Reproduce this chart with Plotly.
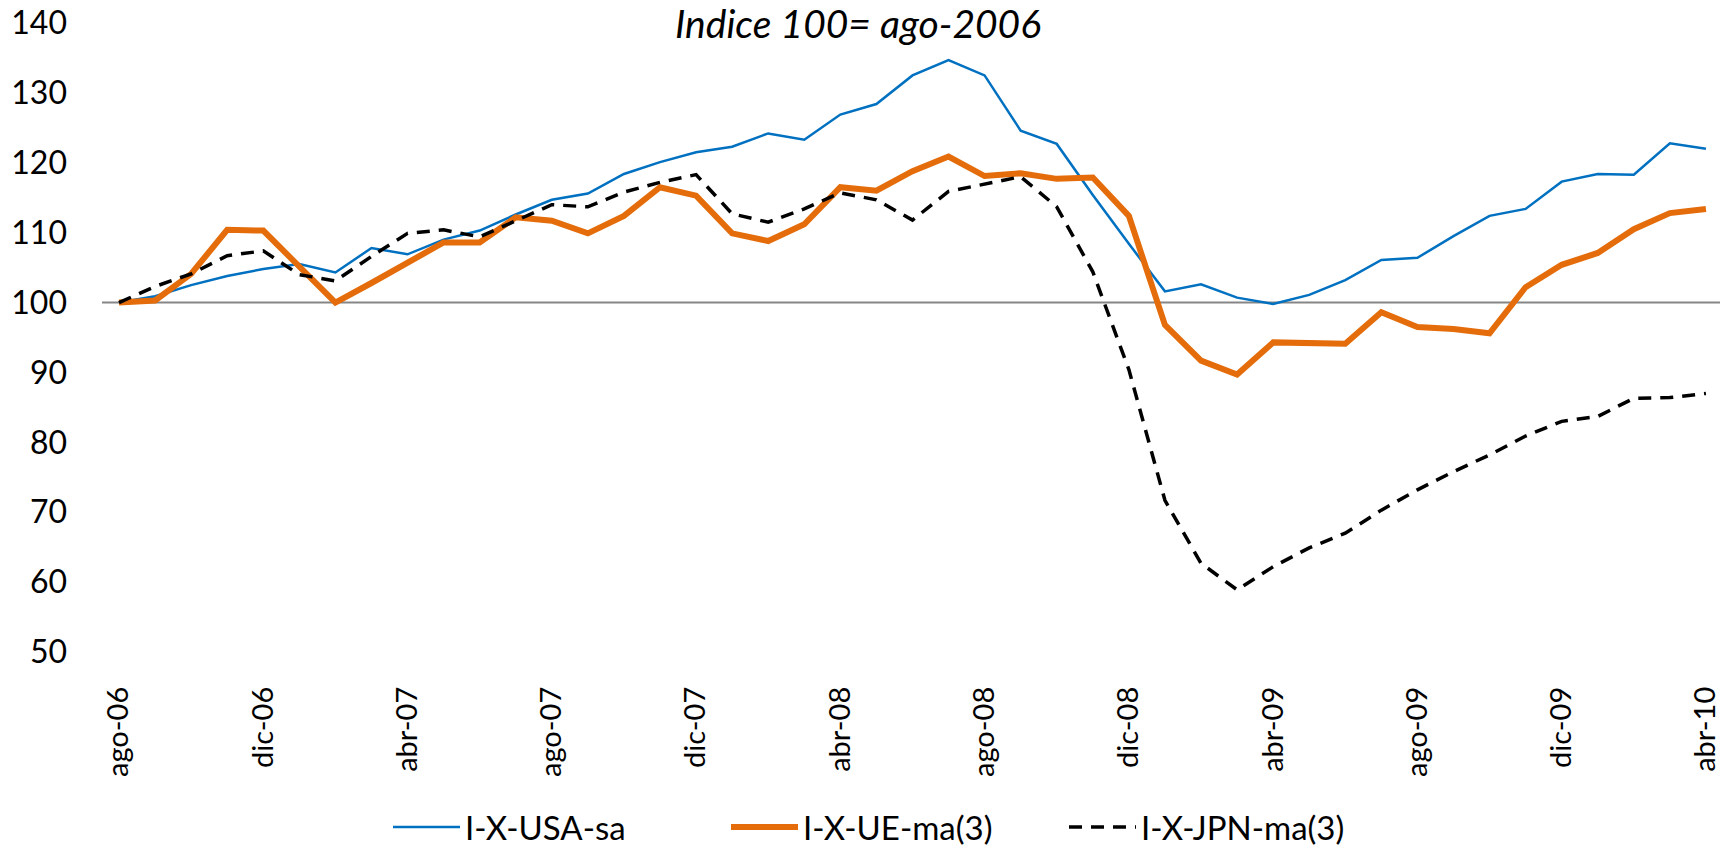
import plotly.graph_objects as go

months = ["ago-06", "sep-06", "oct-06", "nov-06", "dic-06", "ene-07", "feb-07", "mar-07", "abr-07",
          "may-07", "jun-07", "jul-07", "ago-07", "sep-07", "oct-07", "nov-07", "dic-07", "ene-08",
          "feb-08", "mar-08", "abr-08", "may-08", "jun-08", "jul-08", "ago-08", "sep-08", "oct-08",
          "nov-08", "dic-08", "ene-09", "feb-09", "mar-09", "abr-09", "may-09", "jun-09", "jul-09",
          "ago-09", "sep-09", "oct-09", "nov-09", "dic-09", "ene-10", "feb-10", "mar-10", "abr-10"]

usa = [100, 100.9, 102.5, 103.8, 104.8, 105.5, 104.3, 107.8, 106.9, 109.0,
       110.3, 112.6, 114.7, 115.6, 118.4, 120.1, 121.5, 122.3, 124.2, 123.3,
       126.9, 128.4, 132.5, 134.7, 132.5, 124.6, 122.7, 115.4, 108.4, 101.6,
       102.6, 100.7, 99.8, 101.1, 103.2, 106.1, 106.4, 109.5, 112.4, 113.4,
       117.3, 118.4, 118.3, 122.8, 122.0]

ue = [100, 100.3, 104.1, 110.4, 110.3, 105.2, 100.0, 102.8, 105.6, 108.6,
      108.6, 112.2, 111.7, 109.9, 112.4, 116.5, 115.3, 109.9, 108.8, 111.2,
      116.5, 116.0, 118.8, 120.9, 118.1, 118.5, 117.7, 117.9, 112.4, 96.8,
      91.7, 89.7, 94.3, 94.2, 94.1, 98.6, 96.5, 96.2, 95.6, 102.2,
      105.4, 107.1, 110.5, 112.8, 113.4]

jpn = [100, 102.3, 104.1, 106.7, 107.4, 104.0, 103.1, 106.6, 109.9, 110.4,
       109.4, 111.7, 114.0, 113.7, 115.8, 117.2, 118.3, 112.7, 111.5, 113.4,
       115.7, 114.7, 111.8, 115.9, 116.9, 118.0, 113.7, 104.4, 90.4, 71.7,
       62.7, 58.9, 62.2, 64.9, 67.0, 70.3, 73.2, 75.8, 78.2, 80.9,
       83.0, 83.7, 86.3, 86.4, 87.0]

tick_labels = ["ago-06", "dic-06", "abr-07", "ago-07", "dic-07", "abr-08",
               "ago-08", "dic-08", "abr-09", "ago-09", "dic-09", "abr-10"]

series_names = ["I-X-USA-sa", "I-X-UE-ma(3)", "I-X-JPN-ma(3)"]
title_text = "Indice 100= ago-2006"
base_value = 100

FONT = "Lato"

fig = go.Figure()
fig.add_trace(go.Scatter(x=months, y=usa, mode="lines", name=series_names[0],
                         line=dict(color="#0070C0", width=2.5)))
fig.add_trace(go.Scatter(x=months, y=ue, mode="lines", name=series_names[1],
                         line=dict(color="#E46C0A", width=6)))
fig.add_trace(go.Scatter(x=months, y=jpn, mode="lines", name=series_names[2],
                         line=dict(color="#000000", width=3.5, dash="13px,9px")))

fig.add_shape(type="line", xref="paper", yref="y", x0=0, x1=1, y0=base_value, y1=base_value,
              line=dict(color="#868686", width=2), layer="below")

fig.update_layout(
    width=1724, height=849,
    paper_bgcolor="white", plot_bgcolor="white",
    margin=dict(l=102, r=4, t=23, b=197, autoexpand=False),
    font=dict(family=FONT, color="#000000"),
    title=dict(text="<i>" + title_text + "</i>", x=858 / 1724, xanchor="center",
               y=1 - 24 / 849, yanchor="middle", xref="container", yref="container",
               font=dict(family=FONT, size=39, color="#000000")),
    xaxis=dict(type="category", categoryorder="array", categoryarray=months,
               range=[-0.4713, 44.39], tickmode="array", tickvals=tick_labels,
               ticktext=tick_labels, tickangle=-90, showgrid=False, zeroline=False,
               showline=False, ticks="", ticklabelstandoff=28, automargin=False,
               tickfont=dict(family=FONT, size=29, color="#000000")),
    yaxis=dict(range=[50, 140], dtick=10, tick0=50, showgrid=False, zeroline=False,
               showline=False, ticks="", ticklabelstandoff=34, automargin=False,
               tickfont=dict(family=FONT, size=32, color="#000000")),
    legend=dict(orientation="h", xref="container", yref="container",
                x=388 / 1724, xanchor="left", y=1 - 827 / 849, yanchor="middle",
                font=dict(family=FONT, size=33, color="#000000"),
                itemwidth=67, entrywidth=256, bgcolor="rgba(0,0,0,0)"),
    showlegend=True,
)

fig.write_html("out.html", config={"displayModeBar": False},
               post_script="document.body.style.margin='0';document.body.style.overflow='hidden';")
